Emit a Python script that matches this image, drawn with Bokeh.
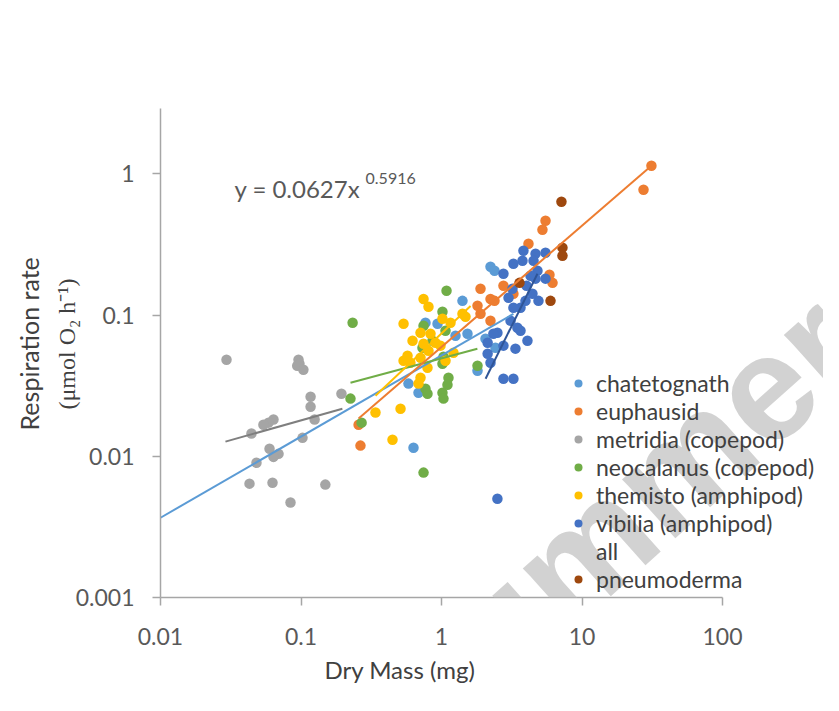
from bokeh.plotting import figure
from bokeh.models import Range1d, FixedTicker, CustomJSTickFormatter, Label, Legend, LegendItem, Title
from bokeh.embed import file_html
from bokeh.resources import INLINE

# ---------------- data ----------------
x_ticks = [0.01, 0.1, 1, 10, 100]
y_ticks = [0.001, 0.01, 0.1, 1]

chaeto_x = [1.41, 0.769, 2.232, 2.385, 0.582, 0.686, 1.531, 1.804, 2.42, 0.632, 1.258, 0.937, 2.056]
chaeto_y = [0.126, 0.0882, 0.22, 0.206, 0.0327, 0.0282, 0.0738, 0.0403, 0.0587, 0.0115, 0.0714, 0.0868, 0.068]

euph_x = [31.2, 27.4, 5.50, 5.23, 4.16, 5.87, 6.17, 3.25, 1.895, 2.232, 2.385, 1.804, 1.895, 2.232, 0.257, 0.265, 2.76]
euph_y = [1.139, 0.77, 0.465, 0.402, 0.32, 0.193, 0.169, 0.1415, 0.1535, 0.130, 0.126, 0.1164, 0.102, 0.0912, 0.0167, 0.0119, 0.161]

metr_x = [0.0295, 0.096, 0.0975, 0.094, 0.104, 0.194, 0.117, 0.117, 0.0637, 0.0587, 0.054, 0.125,
          0.0444, 0.1025, 0.0597, 0.0692, 0.0637, 0.0482, 0.043, 0.0627, 0.149, 0.0842]
metr_y = [0.0483, 0.0483, 0.0452, 0.0438, 0.041, 0.0277, 0.0264, 0.0224, 0.0182, 0.0173, 0.0167, 0.0182,
          0.0145, 0.0135, 0.0113, 0.0104, 0.0099, 0.0090, 0.0064, 0.0065, 0.0063, 0.0047]

neo_x = [0.233, 0.225, 0.270, 1.086, 1.016, 0.745, 1.068, 0.863, 0.732, 1.033, 1.016, 1.121, 1.103,
         0.769, 0.795, 1.016, 1.033, 1.804, 0.745]
neo_y = [0.0882, 0.0256, 0.0173, 0.1486, 0.1055, 0.084, 0.0774, 0.0658, 0.0587, 0.0507, 0.0452, 0.036,
         0.0321, 0.0301, 0.0277, 0.0282, 0.0256, 0.0438, 0.00766]

them_x = [0.745, 0.808, 0.537, 0.709, 0.835, 1.016, 1.159, 1.41, 1.482, 0.622, 0.745, 0.906, 0.808,
          1.217, 0.573, 0.537, 0.601, 0.709, 0.795, 0.709, 0.686, 0.511, 0.339, 0.448, 1.068, 0.984]
them_y = [0.130, 0.1146, 0.0868, 0.075, 0.0738, 0.0942, 0.0882, 0.102, 0.0973, 0.0658, 0.0627, 0.0637,
          0.0559, 0.054, 0.0515, 0.0475, 0.046, 0.0499, 0.0424, 0.036, 0.0327, 0.0217, 0.0204, 0.0131,
          0.0475, 0.0607]

vib_x = [3.83, 4.67, 3.77, 3.25, 2.76, 4.52, 4.82, 4.30, 4.67, 3.20, 4.90, 4.44, 3.96, 3.65, 3.25, 3.0,
         3.47, 3.65, 4.09, 3.36, 2.76, 2.50, 2.34, 2.13, 2.13, 2.232, 2.76, 3.25, 2.50, 5.50, 5.50, 4.03, 3.10]
vib_y = [0.285, 0.272, 0.242, 0.231, 0.196, 0.242, 0.206, 0.19, 0.181, 0.1535, 0.126, 0.1415, 0.126,
         0.1127, 0.1127, 0.1325, 0.0813, 0.0774, 0.0658, 0.0578, 0.0607, 0.075, 0.0738, 0.0637, 0.0532,
         0.046, 0.0354, 0.0354, 0.0050, 0.276, 0.181, 0.161, 0.0912]

pneu_x = [7.14, 7.26, 7.26, 5.97, 3.59]
pneu_y = [0.634, 0.30, 0.263, 0.126, 0.169]

# trendline end points
all_tx, all_ty = [0.01, 3.25], [0.00367, 0.102]
metr_tx, metr_ty = [0.029, 0.197], [0.0127, 0.0217]
neo_tx, neo_ty = [0.225, 1.80], [0.0332, 0.0578]
euph_tx, euph_ty = [0.257, 31.2], [0.0185, 1.14]
them_tx, them_ty = [0.339, 1.61], [0.0268, 0.116]
vib_tx, vib_ty = [2.06, 4.82], [0.0354, 0.196]

series_names = ["chatetognath", "euphausid", "metridia (copepod)", "neocalanus (copepod)",
                "themisto (amphipod)", "vibilia (amphipod)", "all", "pneumoderma"]

FONT = "Lato"
TXT = "#595959"

W, H = 823, 695
LEFT, TOP, BOTTOM = 160, 108, 98
PX_PER_DECADE = 140.5
x_end = 10 ** (2 + (W - LEFT - 4 * PX_PER_DECADE) / PX_PER_DECADE)  # frame runs on past 100 for the legend

p = figure(width=W, height=H, x_axis_type="log", y_axis_type="log",
           x_range=Range1d(0.01, x_end), y_range=Range1d(0.001, 2.9),
           output_backend="svg", toolbar_location=None,
           min_border_left=LEFT, min_border_right=0, min_border_top=TOP, min_border_bottom=BOTTOM)
p.xgrid.visible = False
p.ygrid.visible = False
p.outline_line_color = None
p.background_fill_color = "white"
p.border_fill_color = "white"

fmt = CustomJSTickFormatter(code="return tick.toString();")
for ax, ticks, standoff in ((p.xaxis[0], x_ticks, 22), (p.yaxis[0], y_ticks, 18)):
    ax.ticker = FixedTicker(ticks=ticks, minor_ticks=[])
    ax.formatter = fmt
    ax.axis_line_color = "#a6a6a6"
    ax.axis_line_width = 1.5
    ax.major_tick_line_color = "#a6a6a6"
    ax.major_tick_line_width = 1.5
    ax.major_tick_out = 8
    ax.major_tick_in = 0
    ax.minor_tick_out = 0
    ax.minor_tick_in = 0
    ax.major_label_text_font = FONT
    ax.major_label_text_font_size = "23px"
    ax.major_label_text_color = TXT
    ax.major_label_standoff = standoff
p.xaxis[0].bounds = (0.01, 100)

# second line of the y title as the axis label, pulled in towards the tick labels
yax = p.yaxis[0]
yax.axis_label = "\u00a0\u00a0\u00a0(\u03bcmol O\u2082 h\u207b\u00b9)"
yax.axis_label_text_font = "Liberation Serif"
yax.axis_label_text_font_size = "24px"
yax.axis_label_text_font_style = "normal"
yax.axis_label_text_color = "#404040"
yax.axis_label_standoff = -7

def dots(x, y, color):
    return p.scatter(x, y, size=10.5, fill_color=color, line_color=None)

r_ch = dots(chaeto_x, chaeto_y, "#5B9BD5")
r_eu = dots(euph_x, euph_y, "#ED7D31")
r_me = dots(metr_x, metr_y, "#A5A5A5")
r_ne = dots(neo_x, neo_y, "#70AD47")
r_th = dots(them_x, them_y, "#FFC000")
r_vi = dots(vib_x, vib_y, "#4472C4")
r_all = p.scatter([], [], size=10, fill_alpha=0, line_alpha=0)
r_pn = dots(pneu_x, pneu_y, "#9E480E")

p.line(all_tx, all_ty, line_color="#5B9BD5", line_width=2)
p.line(metr_tx, metr_ty, line_color="#7F7F7F", line_width=2)
p.line(neo_tx, neo_ty, line_color="#70AD47", line_width=2)
p.line(them_tx, them_ty, line_color="#FFC000", line_width=2)
p.line(euph_tx, euph_ty, line_color="#ED7D31", line_width=2)
p.line(vib_tx, vib_ty, line_color="#2F5597", line_width=2)

legend = Legend(items=[LegendItem(label=n, renderers=[r]) for n, r in
                       zip(series_names, [r_ch, r_eu, r_me, r_ne, r_th, r_vi, r_all, r_pn])],
                location=(408, 4), orientation="vertical")
legend.background_fill_alpha = 0
legend.border_line_color = None
legend.padding = 0
legend.margin = 0
legend.spacing = 0
legend.glyph_width = 20
legend.glyph_height = 20
legend.label_height = 20
legend.label_standoff = 8
legend.label_text_font = FONT
legend.label_text_font_size = "23px"
legend.label_text_color = "#404040"
legend.label_text_baseline = "middle"
p.add_layout(legend)

# equation
p.add_layout(Label(x=0.0336, y=0.783, text="y = 0.0627x", text_font=FONT, text_font_size="24px",
                   text_color=TXT, text_baseline="middle", text_align="left"))
p.add_layout(Label(x=0.288, y=0.92, text="0.5916", text_font=FONT, text_font_size="16px",
                   text_color=TXT, text_baseline="middle", text_align="left"))

# axis titles
p.add_layout(Title(text="Dry Mass (mg)", align="left", offset=164, text_font=FONT, text_font_size="24px",
                   text_font_style="normal", text_color="#404040", standoff=10), "below")
p.add_layout(Title(text="Respiration rate", align="left", offset=167, text_font=FONT, text_font_size="25px",
                   text_font_style="normal", text_color="#404040", standoff=14), "left")

# watermark
p.add_layout(Label(x=0.0944, y=3.3e-5, text="e Summer W", text_font="Liberation Sans", text_font_style="bold",
                   text_font_size="150px", text_color="#bfbfbf", text_alpha=0.7,
                   text_baseline="alphabetic", text_align="left", angle=0.73))

open("out.html", "w").write(file_html(p, INLINE))
